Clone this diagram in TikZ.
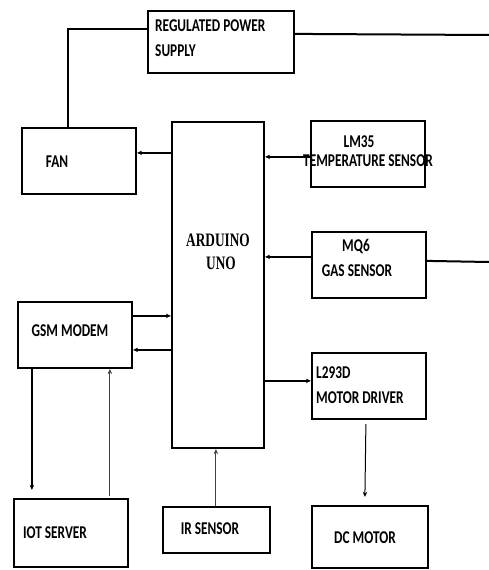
\documentclass[tikz,border=0pt]{standalone}
\usepackage{fontspec}
\setmainfont{Carlito}
\newfontfamily\serifed{Liberation Serif}
\usetikzlibrary{calc,arrows.meta}
\newcommand{\sq}[1]{\scalebox{0.74}[1]{#1}}
\newcommand{\sqs}[1]{\scalebox{0.70}[1]{#1}}
\begin{document}
\begin{tikzpicture}[x=1pt,y=-1pt,
  box/.style={draw,line width=2.2pt,inner sep=0pt},
  txt/.style={inner sep=0pt,font=\fontsize{18}{18}\selectfont\bfseries},
  wire/.style={line width=2pt},
  conn/.style={line width=1.5pt,-{Stealth[length=5pt,width=4.5pt]}},
  thin/.style={line width=0.9pt,draw=black!75,-{Stealth[length=5pt,width=4.5pt]}}]
\useasboundingbox (0,0) rectangle (489,570);
% boxes
\node[box,minimum width=146pt,minimum height=62pt] (rps) at (221,42) {};
\node[box,minimum width=114pt,minimum height=66pt] (fan) at (79,161) {};
\node[box,minimum width=92pt,minimum height=326pt] (ard) at (218,285) {};
\node[box,minimum width=114pt,minimum height=66pt] (lm) at (368,154) {};
\node[box,minimum width=114pt,minimum height=66pt] (mq) at (369,265) {};
\node[box,minimum width=114pt,minimum height=66pt] (gsm) at (75,335) {};
\node[box,minimum width=114pt,minimum height=66pt] (drv) at (369,386) {};
\node[box,minimum width=114pt,minimum height=68pt] (iot) at (71,533) {};
\node[box,minimum width=107pt,minimum height=46pt] (ir) at (216.5,530) {};
\node[box,minimum width=116pt,minimum height=62pt] (dc) at (370,537) {};
% texts
\node[txt,anchor=west] (t1) at (155,26) {\sq{REGULATED POWER}};
\node[txt,anchor=west] (t2) at (155,51) {\sq{SUPPLY}};
\node[txt] (t3) at (57,162) {\sq{FAN}};
\node[txt] (t4) at (359,142) {\sq{LM35}};
\node[txt] (t5) at (368,161) {\sq{TEMPERATURE SENSOR}};
\node[inner sep=0pt,font=\fontsize{19}{19}\selectfont\serifed\bfseries] (t6) at (218,240) {\sqs{ARDUINO}};
\node[inner sep=0pt,font=\fontsize{19}{19}\selectfont\serifed\bfseries] (t7) at (221,263) {\sqs{UNO}};
\node[txt] (t8) at (356,246) {\sq{MQ6}};
\node[txt] (t9) at (357,271) {\sq{GAS SENSOR}};
\node[txt] (t10) at (70,331) {\sq{GSM MODEM}};
\node[txt,anchor=west] (t11) at (316,373) {\sq{L293D}};
\node[txt,anchor=west] (t12) at (316,398) {\sq{MOTOR DRIVER}};
\node[txt] (t13) at (55,533) {\sq{IOT SERVER}};
\node[txt] (t14) at (210,529) {\sq{IR SENSOR}};
\node[txt] (t15) at (365,538) {\sq{DC MOTOR}};
% free ends
\coordinate (pr) at (489,35);
\coordinate (mr) at (489,262);
% power wires
\draw[wire] ($(rps.north west)+(0,19)$) -| ($(fan.north west)+(47,0)$);
\draw[wire] ($(rps.north east)+(0,24)$) -- (pr);
\draw[wire] ($(mq.north east)+(0,30)$) -- (mr);
% signal arrows
\draw[conn] ($(ard.north west)+(0,32)$) -- ($(fan.north east)+(0,26)$);
\draw[conn] ($(lm.north west)+(0,37)$) -- ($(ard.north east)+(0,36)$);
\draw[conn] ($(mq.north west)+(0,26)$) -- ($(ard.north east)+(0,136)$);
\draw[conn] ($(gsm.north east)+(0,15)$) -- ($(ard.north west)+(0,195)$);
\draw[conn] ($(ard.north west)+(0,229)$) -- ($(gsm.north east)+(0,49)$);
\draw[conn] ($(ard.north east)+(0,260)$) -- ($(drv.north west)+(0,29)$);
\draw[conn] ($(gsm.south west)+(15,0)$) -- ($(iot.north west)+(19,-8)$);
\draw[thin] ($(iot.north west)+(97,-2)$) -- ($(gsm.south west)+(93,0)$);
\draw[thin] ($(ir.north west)+(54,0)$) -- ($(ard.south west)+(45,0)$);
\draw[conn,line width=1pt] ($(drv.south west)+(55,4)$) -- ($(dc.north west)+(54,-8)$);
\end{tikzpicture}
\end{document}
